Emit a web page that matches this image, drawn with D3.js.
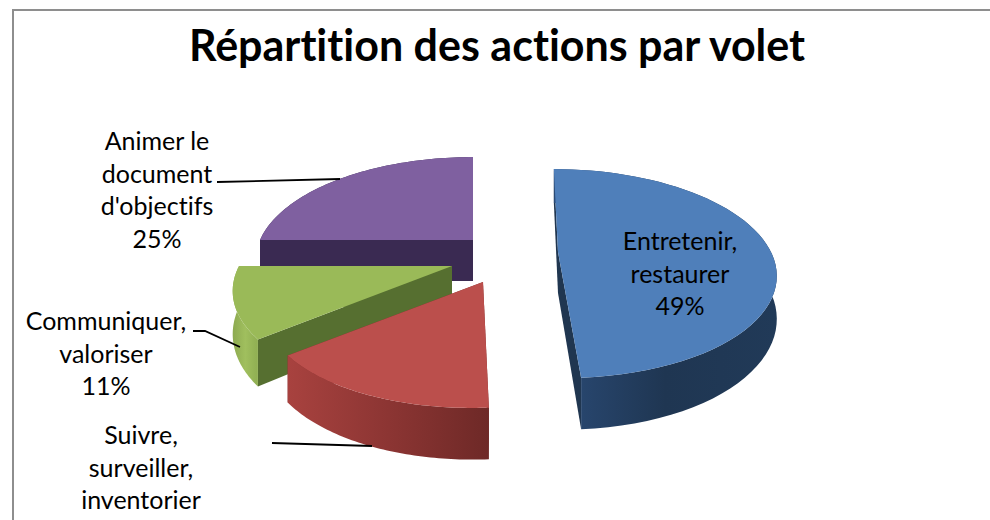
<!DOCTYPE html>
<meta charset="utf-8">
<head>
    <style>
        html, body { margin: 0; padding: 0; background: #fff; overflow: hidden; }
        text { font-family: Lato, "Open Sans", sans-serif; fill: #000; font-variant-ligatures: none; }
    </style>
</head>
<body>
<div id="chart"></div>
<script src="https://d3js.org/d3.v7.min.js"></script>
<script>
    const title = "Répartition des actions par volet";

    // data, in pie order (clockwise from 12 o'clock)
    const categories = ["Entretenir, restaurer", "Suivre, surveiller, inventorier", "Communiquer, valoriser", "Animer le document d'objectifs"];
    const values = [49, 15, 11, 25];

    // label text split in lines as they are wrapped on the picture
    // (the percent of the red slice falls below the edge of the picture)
    const labelLines = [
        ["Entretenir,", "restaurer", "49%"],
        ["Suivre,", "surveiller,", "inventorier"],
        ["Communiquer,", "valoriser", "11%"],
        ["Animer le", "document", "d'objectifs", "25%"]
    ];

    // style and layout of each slice
    const topColors = ["#4f7fba", "#bb4f4c", "#9aba58", "#7f60a0"];
    const edgeColors = ["#203650", "#7b2c2a", "#566f30", "#3a2a52"];
    const wallStops = [
        ["#2a4a75", "#1f3652", "#213a58"],
        ["#a8423f", "#8c3533", "#6e2927"],
        ["#8daa50", "#a0bf5e", "#8fae52"],
        ["#3a2a52", "#3a2a52", "#3a2a52"]
    ];
    const apex = [[558, 252], [483, 282], [452, 266], [473, 240]];
    const shear = [0.05, -0.087, -0.07, 0];
    const labelPos = [[680, 250], [141, 444], [106, 330], [157, 150]];
    const leaders = [
        null,
        [[272, 443], [372, 446]],
        [[193, 331], [205, 331], [240, 347]],
        [[217, 182], [340, 179]]
    ];

    const width = 990, height = 520;
    const rx = 213, ry = 100, persp = 0.206, depth = 41;
    const drawOrder = [3, 2, 0, 1];

    const svg = d3.select("#chart").append("svg")
        .attr("width", width)
        .attr("height", height);

    svg.append("rect")
        .attr("width", width)
        .attr("height", height)
        .attr("fill", "#fff");

    // frame of the chart, only its top and left sides are in the picture
    svg.append("path")
        .attr("d", d3.line()([[13, height], [13, 10], [width, 10]]))
        .attr("fill", "none")
        .attr("stroke", "#8e8e8e")
        .attr("stroke-width", 2);

    svg.append("text")
        .attr("x", 497)
        .attr("y", 61)
        .attr("text-anchor", "middle")
        .style("font-size", "43px")
        .style("font-weight", "bold")
        .text(title);

    const defs = svg.append("defs");

    const slices = d3.pie().sort(null)(values);

    // unit circle of the pie to the screen, with some perspective
    function project(i, angle, drop) {
        const u = Math.sin(angle), v = Math.cos(angle);
        const s = 1 / (1 + persp * v);
        const dy = -ry * v * s;
        return [apex[i][0] + rx * u * s + shear[i] * dy, apex[i][1] + dy + drop * s];
    }
    function apexAt(i, drop) {
        return [apex[i][0], apex[i][1] + drop];
    }
    function arcPoints(i, a0, a1, drop) {
        return d3.range(0, 61).map(k => project(i, a0 + (a1 - a0) * k / 60, drop));
    }

    const line = d3.line();
    const closed = d3.line().curve(d3.curveLinearClosed);

    drawOrder.forEach(function (i) {
        const d = slices[i];
        const g = svg.append("g");

        const grad = defs.append("linearGradient")
            .attr("id", "wall" + i);
        wallStops[i].forEach(function (c, k) {
            grad.append("stop")
                .attr("offset", k / 2)
                .attr("stop-color", c);
        });

        // flat faces of the cut
        [d.startAngle, d.endAngle].forEach(function (a) {
            const p = project(i, a, 0), q = project(i, a, depth);
            g.append("path")
                .attr("d", closed([apexAt(i, 0), p, q, apexAt(i, depth)]))
                .attr("fill", edgeColors[i]);
        });

        // outer wall
        const upper = arcPoints(i, d.startAngle, d.endAngle, 0);
        const lower = arcPoints(i, d.startAngle, d.endAngle, depth).reverse();
        g.append("path")
            .attr("d", closed(upper.concat(lower)))
            .attr("fill", "url(#wall" + i + ")");

        // top of the slice
        g.append("path")
            .attr("d", closed([apexAt(i, 0)].concat(upper)))
            .attr("fill", topColors[i]);
    });

    // leader lines
    leaders.forEach(function (pts) {
        if (!pts) return;
        svg.append("path")
            .attr("d", line(pts))
            .attr("fill", "none")
            .attr("stroke", "#000")
            .attr("stroke-width", 1.8);
    });

    // data labels
    labelLines.forEach(function (lines, i) {
        const t = svg.append("text")
            .attr("text-anchor", "middle")
            .style("font-size", "25px");
        lines.forEach(function (s, k) {
            t.append("tspan")
                .attr("x", labelPos[i][0])
                .attr("y", labelPos[i][1] + k * 32.5)
                .text(s);
        });
    });
</script>
</body>
